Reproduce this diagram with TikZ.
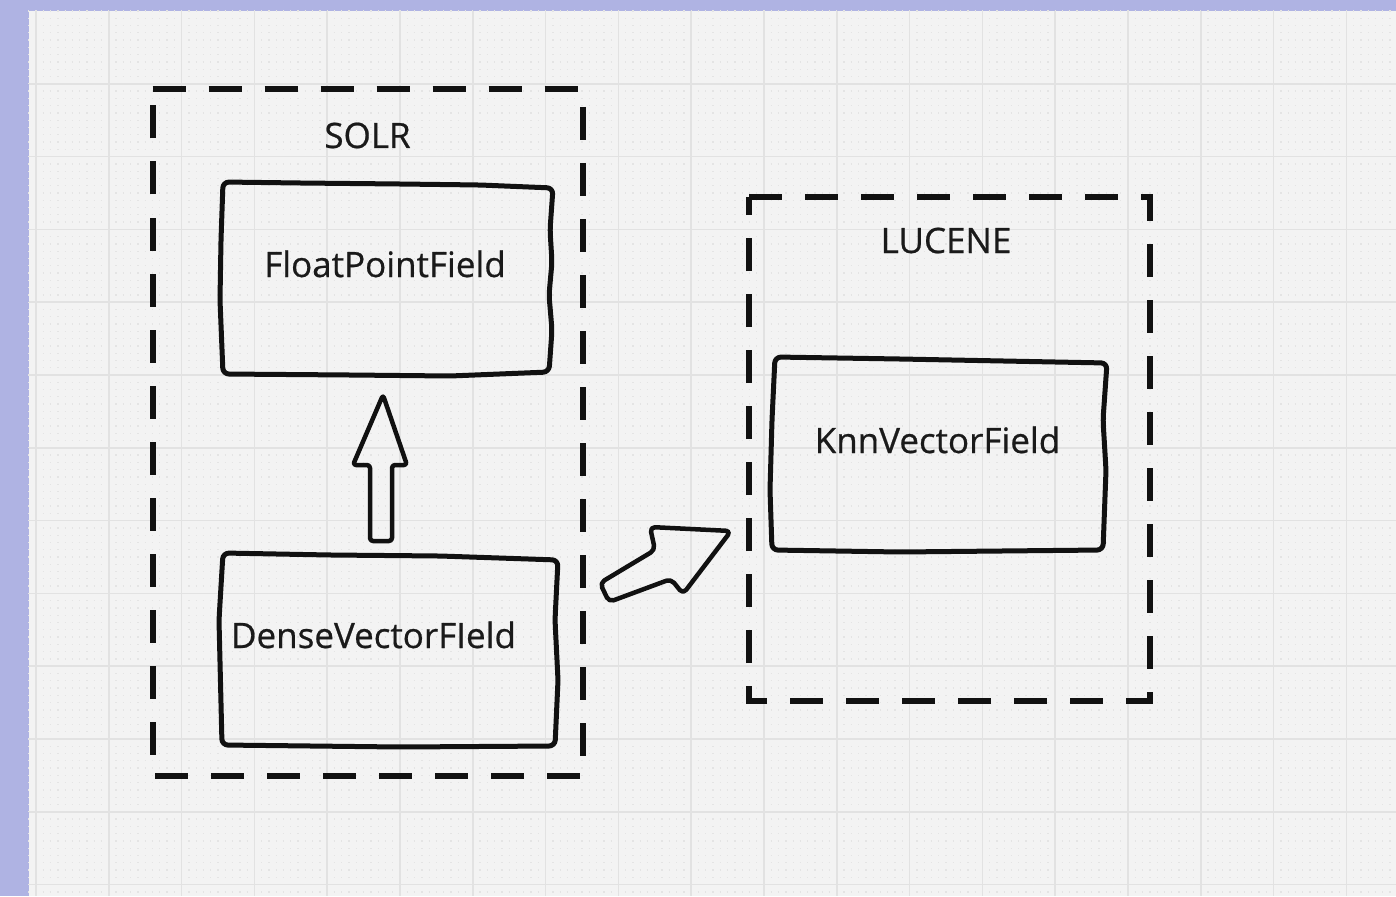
\documentclass[tikz,border=0pt]{standalone}
\usepackage{fontspec}
\setmainfont{Open Sans}
\newfontfamily\lblfont{Open Sans}[FakeBold=0.6]
\definecolor{frame}{HTML}{AFB3E3}
\definecolor{paper}{HTML}{F3F3F3}
\definecolor{gridc}{HTML}{E2E2E2}
\definecolor{dotc}{HTML}{E4E4E4}
\definecolor{ink}{HTML}{111111}
\definecolor{txt}{HTML}{1A1A1A}
\tikzset{
  group/.style={draw=ink, line width=6pt, dash pattern=on 33pt off 23pt},
  sketch/.style={draw=ink, line width=5pt, rounded corners=6pt, line join=round},
  blockarrow/.style={draw=ink, line width=4.5pt, rounded corners=3pt, line join=round},
  boxn/.style={draw=none, inner sep=0pt},
  lbl/.style={font=\lblfont\fontsize{35}{42}\selectfont, text=txt, inner sep=0pt, anchor=base}
}
\begin{document}
\begin{tikzpicture}[x=1pt,y=-1pt]
\useasboundingbox (0,0) rectangle (1396,896);
\fill[frame] (0,0) rectangle (1396,896);
\fill[paper] (29,11) rectangle (1396,896);
% minor dot grid
\foreach \k in {0,...,121}{
  \draw[dotc, line width=1.3pt, dash pattern=on 1.3pt off 5.98pt] (28.1,{11+7.28*\k}) -- (1396,{11+7.28*\k});
}
% major grid
\foreach \k in {0,...,18}{
  \draw[gridc, line width=1.6pt] ({36+72.8*\k},11) -- ({36+72.8*\k},896);
}
\foreach \k in {1,...,12}{
  \draw[gridc, line width=1.6pt] (29,{11+72.8*\k}) -- (1396,{11+72.8*\k});
}
% group boxes
\draw[group] (152.5,89.5) -- (583,89.5) -- (583,775.5) -- (152.5,775.5) -- cycle;
\draw[group] (749,197) -- (1150,197) -- (1150,701) -- (749,701) -- cycle;
\node[lbl] (solr) at (367.5,148) {SOLR};
\node[lbl] (lucene) at (946,253) {LUCENE};
% field boxes (named nodes)
\node[boxn, minimum width=332pt, minimum height=192pt] (float) at (387,279) {};
\node[boxn, minimum width=336pt, minimum height=193pt] (dense) at (389,650) {};
\node[boxn, minimum width=334pt, minimum height=193pt] (knn) at (939,455) {};
\draw[sketch] (223,182) -- (300,183) -- (400,184) -- (480,185) -- (553,188) -- (550,230) -- (552,262) -- (549,295) -- (552,330) -- (549,372) -- (450,376) -- (350,375) -- (223,374) -- (220,300) -- (221,240) -- cycle;
\draw[sketch] (223,553) -- (330,555) -- (440,556) -- (558,560) -- (555,620) -- (558,680) -- (555,746) -- (400,747) -- (222,745) -- (219,620) -- cycle;
\draw[sketch] (775,357) -- (900,359) -- (1107,363) -- (1103,420) -- (1106,470) -- (1103,550) -- (900,552) -- (772,550) -- (770,490) -- (772,420) -- cycle;
\node[lbl] (floatt) at (385,277) {FloatPointField};
\node[lbl] (denset) at (373.5,648) {DenseVectorFIeld};
\node[lbl] (knnt) at (937.5,453) {KnnVectorField};
% block arrows
\draw[blockarrow] (370,541) -- (370,465) -- (353,465) -- (383,395) -- (407,465) -- (392,465) -- (392,541) -- cycle;
\draw[blockarrow, rounded corners=5pt] (600,583) -- (655,550) -- (650,527) -- (731,531) -- (683,594) -- (671,579) -- (609,602) -- cycle;
\end{tikzpicture}
\end{document}
